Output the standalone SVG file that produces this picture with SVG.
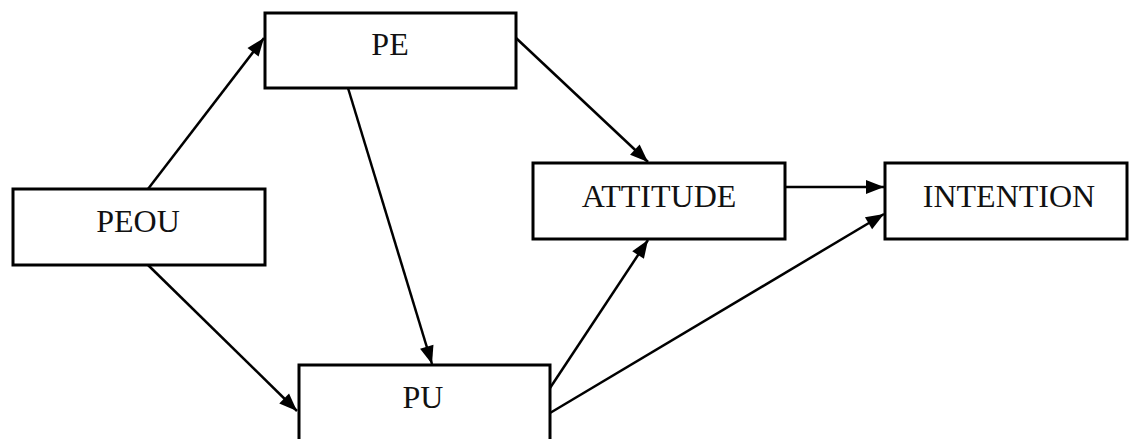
<svg xmlns="http://www.w3.org/2000/svg" width="1129" height="439" viewBox="0 0 1129 439">
<defs>
<marker id="ah" viewBox="0 0 18 14" refX="18" refY="7" markerWidth="18" markerHeight="14" markerUnits="userSpaceOnUse" orient="auto" style="overflow:visible">
<path d="M0,0 L18,7 L0,14 Z" fill="#000"/>
</marker>
<style>
.box{fill:#fff;stroke:#000;stroke-width:3}
.lbl{font-family:"Liberation Serif","Times New Roman",serif;font-size:32px;fill:#111;text-anchor:middle}
.c{stroke:#000;stroke-width:2.5;fill:none;marker-end:url(#ah)}
</style>
</defs>
<rect width="1129" height="439" fill="#fff"/>
<g id="connectors">
<line class="c" x1="148" y1="189" x2="264" y2="38"/>
<line class="c" x1="148" y1="265" x2="297" y2="411"/>
<line class="c" x1="348" y1="88" x2="432" y2="364"/>
<line class="c" x1="516" y1="38" x2="648" y2="162"/>
<line class="c" x1="785" y1="187" x2="884" y2="187"/>
<line class="c" x1="550" y1="388" x2="648" y2="240"/>
<line class="c" x1="550" y1="413" x2="884" y2="214"/>
</g>
<g id="PE"><rect class="box" x="265" y="13" width="251" height="75"/><text class="lbl" x="390" y="55">PE</text></g>
<g id="PEOU"><rect class="box" x="13" y="189" width="252" height="76"/><text class="lbl" x="138" y="232">PEOU</text></g>
<g id="ATTITUDE"><rect class="box" x="533" y="163" width="252" height="76"/><text class="lbl" x="659" y="207">ATTITUDE</text></g>
<g id="INTENTION"><rect class="box" x="885" y="163" width="242" height="76"/><text class="lbl" x="1009" y="207">INTENTION</text></g>
<g id="PU"><rect class="box" x="299" y="365" width="251" height="80"/><text class="lbl" x="423" y="408">PU</text></g>
</svg>
